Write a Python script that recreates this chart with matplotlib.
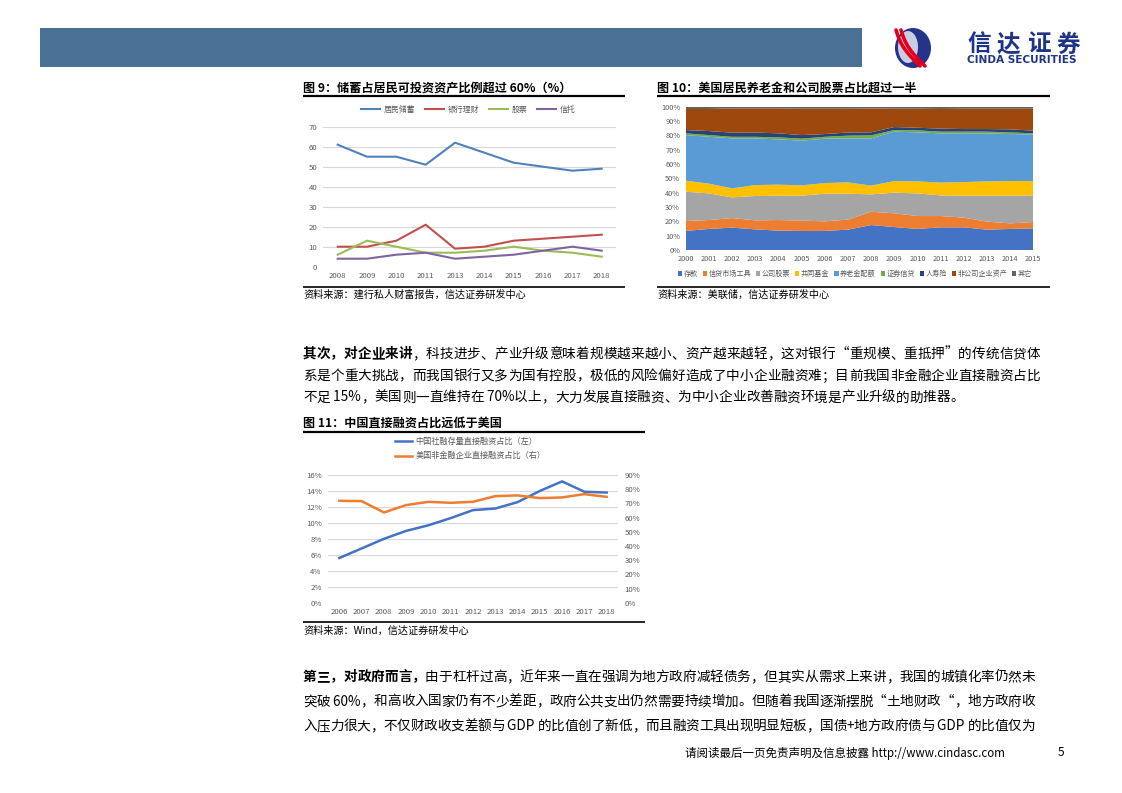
# ==== IMPORT ================================================================ #

import matplotlib
matplotlib.use('Agg')

import matplotlib.pyplot as plt
import numpy             as np

from matplotlib.patches import Ellipse, Patch, Rectangle

# ==== DATA ================================================================== #

W, H = 1122, 793

f9_years   = ['2008', '2009', '2010', '2011', '2013', '2014', '2015', '2016', '2017', '2018']
f9_names   = ['居民储蓄', '银行理财', '股票', '信托']
f9_savings = [61, 55, 55, 51, 62, 57, 52, 50, 48, 49]
f9_wealth  = [10, 10, 13, 21, 9, 10, 13, 14, 15, 16]
f9_stocks  = [6, 13, 10, 7, 7, 8, 10, 8, 7, 5]
f9_trust   = [4, 4, 6, 7, 4, 5, 6, 8, 10, 8]

f10_years    = list(range(2000, 2016))
f10_names    = ['存款', '信贷市场工具', '公司股票', '共同基金', '养老金配额',
                '证券信贷', '人寿险', '非公司企业资产', '其它']
f10_deposit  = [13.3, 14.7, 15.6, 14.4, 13.5, 13.3, 13.3, 14.2, 17.4, 16.0, 14.7, 15.8, 15.8, 14.2, 14.7, 15.1]
f10_credit   = [6.9, 6.2, 6.7, 6.3, 7.4, 7.2, 6.7, 7.0, 9.3, 9.6, 9.0, 7.9, 6.8, 5.6, 3.9, 4.4]
f10_equity   = [20.5, 18.6, 14.4, 17.0, 17.0, 17.4, 19.3, 18.1, 12.1, 14.4, 15.8, 14.4, 15.3, 18.1, 19.3, 18.6]
f10_funds    = [7.7, 6.8, 6.3, 7.6, 7.7, 7.2, 7.4, 7.9, 6.1, 8.1, 8.4, 8.9, 9.5, 10.0, 10.2, 10.0]
f10_pension  = [31.8, 32.7, 34.9, 32.6, 31.6, 31.2, 31.0, 30.7, 33.0, 34.5, 34.2, 34.4, 34.0, 33.5, 32.8, 32.6]
f10_margin   = [1.2, 1.2, 1.1, 1.1, 1.4, 1.4, 1.3, 1.9, 2.1, 1.1, 1.4, 1.2, 1.2, 1.2, 1.2, 0.7]
f10_life     = [2.3, 2.8, 2.9, 3.0, 2.8, 2.5, 1.9, 2.2, 2.1, 2.1, 1.8, 2.1, 1.8, 1.8, 2.1, 1.9]
f10_noncorp  = [14.7, 15.4, 16.9, 16.8, 17.4, 18.4, 17.7, 16.6, 16.7, 12.8, 13.3, 13.7, 14.2, 14.2, 14.4, 15.3]
f10_other    = [1.6, 1.6, 1.2, 1.2, 1.2, 1.4, 1.4, 1.4, 1.2, 1.4, 1.4, 1.6, 1.4, 1.4, 1.4, 1.4]

f11_years = ['2006', '2007', '2008', '2009', '2010', '2011', '2012',
             '2013', '2014', '2015', '2016', '2017', '2018']
f11_names = ['中国社融存量直接融资占比（左）', '美国非金融企业直接融资占比（右）']
f11_china = [5.6, 6.8, 8.0, 9.0, 9.7, 10.6, 11.6, 11.8, 12.6, 14.0, 15.2, 13.9, 13.8]
f11_us    = [71.8, 71.6, 63.6, 68.8, 71.1, 70.4, 71.1, 75.1, 75.6, 73.7, 74.2, 76.5, 74.6]

para1 = [[('其次，对企业来讲', 'bold'),
          ('，科技进步、产业升级意味着规模越来越小、资产越来越轻，这对银行“重规模、重抵押”的传统信贷体', 'normal')],
         [('系是个重大挑战，而我国银行又多为国有控股，极低的风险偏好造成了中小企业融资难；目前我国非金融企业直接融资占比', 'normal')],
         [('不足 15%，美国则一直维持在 70%以上，大力发展直接融资、为中小企业改善融资环境是产业升级的助推器。', 'normal')]]

para2 = [[('第三，对政府而言，', 'bold'),
          ('由于杠杆过高，近年来一直在强调为地方政府减轻债务，但其实从需求上来讲，我国的城镇化率仍然未', 'normal')],
         [('突破 60%，和高收入国家仍有不少差距，政府公共支出仍然需要持续增加。但随着我国逐渐摆脱“土地财政“，地方政府收', 'normal')],
         [('入压力很大，不仅财政收支差额与 GDP 的比值创了新低，而且融资工具出现明显短板，国债+地方政府债与 GDP 的比值仅为', 'normal')]]

# ==== FUNCTIONS ============================================================= #

plt.rcParams['font.family'] = ['Noto Sans CJK SC', 'DejaVu Sans']

GRAY = '#595959'
GRID = '#D9D9D9'

fig = plt.figure(figsize = (W / 100, H / 100), dpi = 100)
pg  = fig.add_axes([0, 0, 1, 1])
pg.set_xlim(0, W)
pg.set_ylim(H, 0)
pg.axis('off')


def axes_px(left, top, right, bottom):

    return fig.add_axes([left / W, 1 - bottom / H, (right - left) / W, (bottom - top) / H])


def justify(y, segs, x0, x1, size, stretch = True, color = 'black'):

    tokens = []
    for s, w in segs:
        buf = ''
        for ch in s:
            if ord(ch) < 128:
                buf += ch
            else:
                if buf:
                    tokens.append((buf, w))
                    buf = ''
                tokens.append((ch, w))
        if buf:
            tokens.append((buf, w))

    r      = fig.canvas.get_renderer()
    objs   = [pg.text(0, y, t, fontsize = size, fontweight = w, color = color,
                      va = 'center', ha = 'left') for t, w in tokens]
    widths = [o.get_window_extent(r).width for o in objs]
    gap    = (x1 - x0 - sum(widths)) / (len(objs) - 1) if stretch else 0
    x      = x0
    for o, wd in zip(objs, widths):
        o.set_x(x)
        x += wd + gap


def frame(title, source, x0, x1, y_title, y_line, y_bot, y_src):

    pg.text(x0, y_title, title, fontsize = 8.7, fontweight = 'bold', va = 'center', ha = 'left')
    pg.plot([x0, x1], [y_line, y_line], color = 'black', lw = 1.6, solid_capstyle = 'butt')
    pg.plot([x0, x1], [y_bot, y_bot], color = 'black', lw = 1.2, solid_capstyle = 'butt')
    pg.text(x0, y_src, source, fontsize = 7.3, style = 'italic', va = 'center', ha = 'left')


def clean(ax):

    for s in ax.spines.values():
        s.set_visible(False)
    ax.tick_params(length = 0, colors = GRAY, labelsize = 5.6)


def header():

    pg.add_patch(Rectangle((40, 28), 822, 39, facecolor = '#4B7096', edgecolor = 'none'))

    pg.add_patch(Ellipse((913, 48), 36, 40, facecolor = '#23348A', edgecolor = 'none'))
    pg.add_patch(Ellipse((908, 47), 20, 32, facecolor = '#C9CEE2', edgecolor = 'none'))
    t = np.linspace(0, 1, 40)
    for dx in (0, 5):
        pg.plot(896 + dx + 24 * t - 4 * np.sin(np.pi * t), 30 + 36 * t,
                color = '#E1001E', lw = 2.6, solid_capstyle = 'round')

    justify(45, [('信达证券', 'bold')], 967, 1080, 17, color = '#1F3486')
    pg.text(967, 60, 'CINDA SECURITIES', fontsize = 7.6, fontweight = 'bold',
            color = '#1F3486', va = 'center', ha = 'left', family = 'DejaVu Sans')


def chart9():

    frame('图 9：储蓄占居民可投资资产比例超过 60%（%）',
          '资料来源：建行私人财富报告，信达证券研发中心',
          303, 625, 88, 96, 286.5, 295)

    ax = axes_px(323, 126.7, 616.4, 266.7)
    clean(ax)
    x  = np.arange(len(f9_years))
    for vals, col, name in zip((f9_savings, f9_wealth, f9_stocks, f9_trust),
                               ('#4F81BD', '#C0504D', '#9BBB59', '#8064A2'), f9_names):
        ax.plot(x, vals, color = col, lw = 1.5, label = name)
    ax.set_xlim(-0.5, len(f9_years) - 0.5)
    ax.set_ylim(0, 70)
    ax.set_yticks(range(0, 71, 10))
    ax.set_xticks(x)
    ax.set_xticklabels(f9_years)
    ax.grid(axis = 'y', color = GRID, lw = 0.8)
    ax.set_axisbelow(True)
    ax.tick_params(axis = 'y', pad = 4)
    ax.tick_params(axis = 'x', pad = 4)
    ax.legend(loc = 'center', bbox_to_anchor = (0.495, 1.126), ncol = 4, frameon = False,
              fontsize = 5.7, handlelength = 2.4, handletextpad = 0.4, columnspacing = 1.3,
              labelcolor = GRAY)


def chart10():

    frame('图 10：美国居民养老金和公司股票占比超过一半',
          '资料来源：美联储，信达证券研发中心',
          657, 1050, 88, 96, 286.5, 295)

    ax   = axes_px(685.7, 106.7, 1033.3, 250)
    clean(ax)
    cols = ['#4472C4', '#ED7D31', '#A5A5A5', '#FFC000', '#5B9BD5',
            '#70AD47', '#264478', '#9E480E', '#636363']
    ax.stackplot(f10_years, f10_deposit, f10_credit, f10_equity, f10_funds, f10_pension,
                 f10_margin, f10_life, f10_noncorp, f10_other, colors = cols, lw = 0)
    ax.set_xlim(2000, 2015)
    ax.set_ylim(0, 100)
    ax.set_yticks(range(0, 101, 10))
    ax.set_yticklabels([f'{v}%' for v in range(0, 101, 10)])
    ax.set_xticks(f10_years)
    ax.tick_params(labelsize = 5.3)
    ax.tick_params(axis = 'y', pad = 4)
    ax.tick_params(axis = 'x', pad = 3.5)
    handles = [Patch(facecolor = c, edgecolor = 'none') for c in cols]
    ax.legend(handles, f10_names, loc = 'center', bbox_to_anchor = (0.487, -0.167), ncol = 9,
              frameon = False, fontsize = 5.1, handlelength = 0.6, handleheight = 0.6,
              handletextpad = 0.2, columnspacing = 0.7, labelcolor = GRAY)


def chart11():

    frame('图 11：中国直接融资占比远低于美国',
          '资料来源：Wind，信达证券研发中心',
          303, 645, 423, 432, 621.5, 631)

    ax  = axes_px(328.2, 475, 617.8, 602.7)
    ax2 = ax.twinx()
    clean(ax)
    clean(ax2)
    x   = np.arange(len(f11_years))
    l1, = ax.plot(x, f11_china, color = '#4472C4', lw = 1.8)
    l2, = ax2.plot(x, f11_us, color = '#ED7D31', lw = 1.8)
    ax.set_xlim(-0.5, len(f11_years) - 0.5)
    ax.set_ylim(0, 16)
    ax2.set_ylim(0, 90)
    ax.set_yticks(range(0, 17, 2))
    ax.set_yticklabels([f'{v}%' for v in range(0, 17, 2)])
    ax2.set_yticks(range(0, 91, 10))
    ax2.set_yticklabels([f'{v}%' for v in range(0, 91, 10)])
    ax.set_xticks(x)
    ax.set_xticklabels(f11_years)
    ax.grid(axis = 'y', color = GRID, lw = 0.8)
    ax.tick_params(axis = 'y', pad = 4.7)
    ax2.tick_params(axis = 'y', pad = 5)
    ax.tick_params(axis = 'x', pad = 3.7)
    ax2.legend([l1, l2], f11_names, loc = 'upper left', bbox_to_anchor = (0.23, 1.30),
               frameon = False, fontsize = 5.9, handlelength = 2.15, handletextpad = 0.4,
               borderpad = 0, borderaxespad = 0, labelspacing = 0.7, labelcolor = GRAY)


def body():

    for i, line in enumerate(para1):
        justify(354 + 21.7 * i, line, 303, 1040, 9.8, stretch = i < 2)
    for i, line in enumerate(para2):
        justify(677 + 24.5 * i, line, 303, 1035, 9.8)

    pg.text(685, 753, '请阅读最后一页免责声明及信息披露 http://www.cindasc.com',
            fontsize = 8.3, va = 'center', ha = 'left')
    pg.text(1058, 753, '5', fontsize = 8.5, va = 'center', ha = 'left')

# ==== MAIN ================================================================== #

def main():

    header()
    chart9()
    chart10()
    chart11()
    body()
    fig.savefig('out.png', dpi = 100)


if __name__ == "__main__":

    main()
